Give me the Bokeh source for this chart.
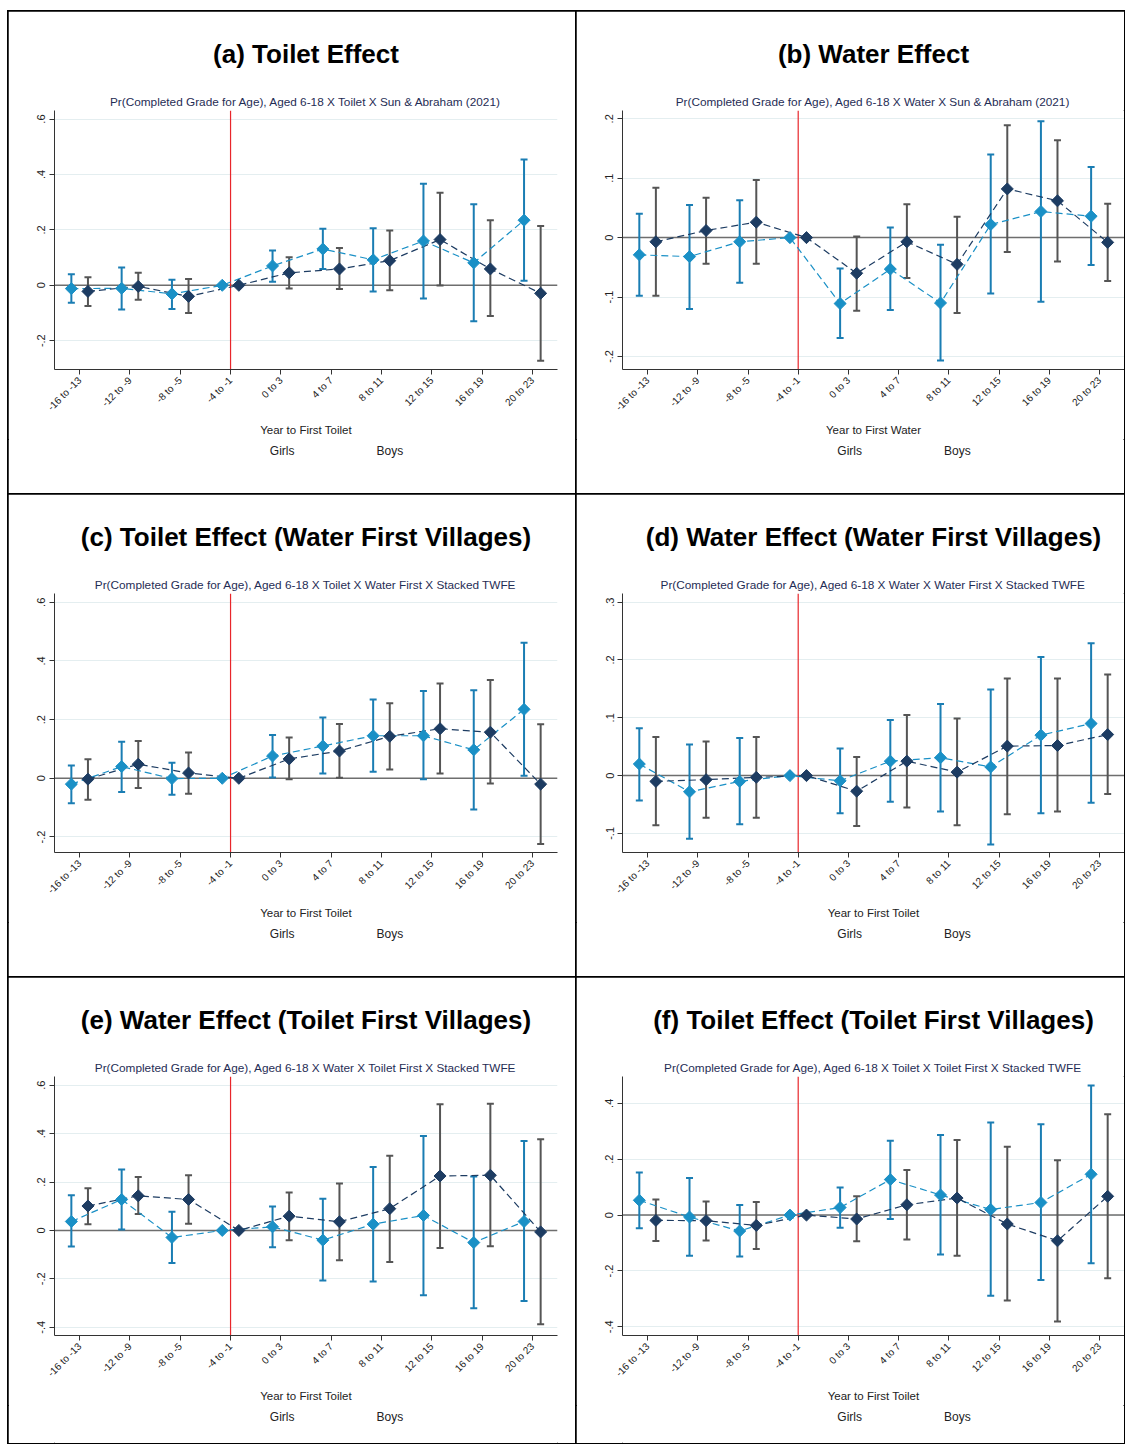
import math
from bokeh.plotting import figure
from bokeh.models import Span, Title, Legend, LegendItem, FixedTicker
from bokeh.layouts import column, row
from bokeh.embed import file_html
from bokeh.resources import INLINE

nan = float("nan")

categories = ["-16 to -13", "-12 to -9", "-8 to -5", "-4 to -1", "0 to 3",
              "4 to 7", "8 to 11", "12 to 15", "16 to 19", "20 to 23"]
cat_pos = list(range(1, 11))

a_g = [-0.012, -0.011, -0.031, 0.0, 0.070, 0.131, 0.092, 0.160, 0.081, 0.235]
a_g_lo = [-0.063, -0.087, -0.086, nan, 0.013, 0.059, -0.022, -0.048, -0.130, 0.016]
a_g_hi = [0.040, 0.064, 0.020, nan, 0.126, 0.204, 0.206, 0.367, 0.293, 0.454]
a_b = [-0.022, -0.004, -0.040, 0.0, 0.045, 0.059, 0.089, 0.165, 0.059, -0.029]
a_b_lo = [-0.075, -0.052, -0.100, nan, -0.012, -0.013, -0.018, -0.001, -0.111, -0.272]
a_b_hi = [0.029, 0.045, 0.023, nan, 0.101, 0.135, 0.198, 0.334, 0.235, 0.214]

b_g = [-0.029, -0.032, -0.007, 0.0, -0.111, -0.053, -0.110, 0.022, 0.044, 0.036]
b_g_lo = [-0.098, -0.120, -0.076, nan, -0.169, -0.122, -0.207, -0.094, -0.108, -0.046]
b_g_hi = [0.040, 0.055, 0.063, nan, -0.052, 0.017, -0.012, 0.140, 0.196, 0.119]
b_b = [-0.007, 0.012, 0.026, 0.0, -0.060, -0.007, -0.045, 0.082, 0.062, -0.008]
b_b_lo = [-0.098, -0.044, -0.044, nan, -0.123, -0.068, -0.127, -0.024, -0.040, -0.073]
b_b_hi = [0.084, 0.067, 0.097, nan, 0.002, 0.056, 0.035, 0.189, 0.164, 0.057]

c_g = [-0.020, 0.040, -0.001, 0.0, 0.076, 0.110, 0.145, 0.145, 0.097, 0.235]
c_g_lo = [-0.085, -0.047, -0.056, nan, 0.003, 0.016, 0.022, -0.003, -0.106, 0.009]
c_g_hi = [0.044, 0.125, 0.053, nan, 0.148, 0.207, 0.269, 0.298, 0.300, 0.462]
c_b = [-0.003, 0.048, 0.018, 0.0, 0.066, 0.093, 0.143, 0.169, 0.157, -0.020]
c_b_lo = [-0.073, -0.033, -0.053, nan, -0.003, 0.002, 0.030, 0.016, -0.018, -0.224]
c_b_hi = [0.065, 0.127, 0.088, nan, 0.139, 0.185, 0.256, 0.323, 0.335, 0.184]

d_g = [0.020, -0.028, -0.010, 0.0, -0.009, 0.025, 0.031, 0.015, 0.070, 0.090]
d_g_lo = [-0.043, -0.109, -0.084, nan, -0.065, -0.045, -0.062, -0.119, -0.065, -0.047]
d_g_hi = [0.082, 0.054, 0.065, nan, 0.047, 0.096, 0.124, 0.149, 0.205, 0.229]
d_b = [-0.010, -0.007, -0.003, 0.0, -0.027, 0.025, 0.006, 0.051, 0.052, 0.071]
d_b_lo = [-0.086, -0.073, -0.073, nan, -0.087, -0.055, -0.086, -0.067, -0.062, -0.032]
d_b_hi = [0.067, 0.059, 0.067, nan, 0.032, 0.105, 0.099, 0.168, 0.168, 0.175]

e_g = [0.037, 0.128, -0.029, 0.0, 0.015, -0.040, 0.026, 0.062, -0.050, 0.037]
e_g_lo = [-0.066, 0.004, -0.134, nan, -0.069, -0.207, -0.211, -0.268, -0.321, -0.291]
e_g_hi = [0.145, 0.252, 0.077, nan, 0.099, 0.131, 0.262, 0.390, 0.223, 0.370]
e_b = [0.101, 0.143, 0.128, 0.0, 0.059, 0.036, 0.090, 0.225, 0.228, -0.006]
e_b_lo = [0.026, 0.068, 0.028, nan, -0.040, -0.123, -0.130, -0.072, -0.065, -0.388]
e_b_hi = [0.174, 0.221, 0.228, nan, 0.157, 0.194, 0.309, 0.521, 0.523, 0.377]

f_g = [0.053, -0.007, -0.057, 0.0, 0.027, 0.127, 0.072, 0.020, 0.045, 0.146]
f_g_lo = [-0.047, -0.146, -0.148, nan, -0.045, -0.014, -0.141, -0.289, -0.232, -0.172]
f_g_hi = [0.152, 0.133, 0.036, nan, 0.099, 0.266, 0.287, 0.331, 0.325, 0.464]
f_b = [-0.019, -0.020, -0.037, 0.0, -0.014, 0.037, 0.061, -0.032, -0.092, 0.067]
f_b_lo = [-0.093, -0.091, -0.121, nan, -0.094, -0.087, -0.146, -0.306, -0.381, -0.226]
f_b_hi = [0.056, 0.049, 0.047, nan, 0.067, 0.161, 0.269, 0.245, 0.196, 0.361]

titles = ["(a) Toilet Effect", "(b) Water Effect",
          "(c) Toilet Effect (Water First Villages)", "(d) Water Effect (Water First Villages)",
          "(e) Water Effect (Toilet First Villages)", "(f) Toilet Effect (Toilet First Villages)"]
subtitles = [
    "Pr(Completed Grade for Age), Aged 6-18 X Toilet X Sun & Abraham (2021)",
    "Pr(Completed Grade for Age), Aged 6-18 X Water X Sun & Abraham (2021)",
    "Pr(Completed Grade for Age), Aged 6-18 X Toilet X Water First X Stacked TWFE",
    "Pr(Completed Grade for Age), Aged 6-18 X Water X Water First X Stacked TWFE",
    "Pr(Completed Grade for Age), Aged 6-18 X Water X Toilet First X Stacked TWFE",
    "Pr(Completed Grade for Age), Aged 6-18 X Toilet X Toilet First X Stacked TWFE",
]
xlabels = ["Year to First Toilet", "Year to First Water", "Year to First Toilet",
           "Year to First Toilet", "Year to First Toilet", "Year to First Toilet"]
legend_labels = ["Girls", "Boys"]

yticks_a = [-0.2, 0.0, 0.2, 0.4, 0.6]
ylabels_a = ["-.2", "0", ".2", ".4", ".6"]
yticks_b = [-0.2, -0.1, 0.0, 0.1, 0.2]
ylabels_b = ["-.2", "-.1", "0", ".1", ".2"]
yticks_d = [-0.1, 0.0, 0.1, 0.2, 0.3]
ylabels_d = ["-.1", "0", ".1", ".2", ".3"]
yticks_e = [-0.4, -0.2, 0.0, 0.2, 0.4, 0.6]
ylabels_e = ["-.4", "-.2", "0", ".2", ".4", ".6"]
yticks_f = [-0.4, -0.2, 0.0, 0.2, 0.4]
ylabels_f = ["-.4", "-.2", "0", ".2", ".4"]

yranges = [(-0.304, 0.631), (-0.222, 0.214), (-0.253, 0.630),
           (-0.133, 0.315), (-0.434, 0.636), (-0.431, 0.496)]

panels = [
    (a_g, a_g_lo, a_g_hi, a_b, a_b_lo, a_b_hi, yticks_a, ylabels_a),
    (b_g, b_g_lo, b_g_hi, b_b, b_b_lo, b_b_hi, yticks_b, ylabels_b),
    (c_g, c_g_lo, c_g_hi, c_b, c_b_lo, c_b_hi, yticks_a, ylabels_a),
    (d_g, d_g_lo, d_g_hi, d_b, d_b_lo, d_b_hi, yticks_d, ylabels_d),
    (e_g, e_g_lo, e_g_hi, e_b, e_b_lo, e_b_hi, yticks_e, ylabels_e),
    (f_g, f_g_lo, f_g_hi, f_b, f_b_lo, f_b_hi, yticks_f, ylabels_f),
]

GIRL_C = "#1a90c6"
GIRL_CI = "#1a7db3"
BOY_C = "#1d3c62"
BOY_CI = "#555555"
FONT = "Liberation Sans"
OFFSET = 0.165


def make_cell(i, width, cell_height, right_border):
    g, g_lo, g_hi, b, b_lo, b_hi, yt, yl = panels[i]
    main_h = 428
    p = figure(width=width, height=main_h, x_range=(0.5, 10.5), y_range=yranges[i],
               output_backend="svg", toolbar_location=None,
               min_border_left=46, min_border_right=right_border,
               min_border_top=99, min_border_bottom=70,
               background_fill_color="white", border_fill_color="white",
               outline_line_color=None)

    p.add_layout(Title(text=subtitles[i], align="center", text_font=FONT,
                       text_font_size="11.8px", text_font_style="normal",
                       text_color="#1f2d55", standoff=3), "above")
    p.add_layout(Title(text=titles[i], align="center", text_font=FONT,
                       text_font_size="26px", text_font_style="bold",
                       text_color="black", standoff=45), "above")

    gx = [c - OFFSET for c in cat_pos]
    bx = [c + OFFSET for c in cat_pos]

    p.add_layout(Span(location=0, dimension="width", line_color="#6e6e6e",
                      line_width=1.5, level="underlay"))
    p.add_layout(Span(location=4, dimension="height", line_color="#e8262b",
                      line_width=1.2, level="underlay"))

    p.segment(x0=gx, y0=g_lo, x1=gx, y1=g_hi, line_color=GIRL_CI, line_width=2)
    p.scatter(x=gx + gx, y=g_lo + g_hi, marker="dash", size=7, line_color=GIRL_CI, line_width=2)
    p.segment(x0=bx, y0=b_lo, x1=bx, y1=b_hi, line_color=BOY_CI, line_width=2)
    p.scatter(x=bx + bx, y=b_lo + b_hi, marker="dash", size=7, line_color=BOY_CI, line_width=2)

    p.line(gx, g, line_color=GIRL_C, line_width=1.2, line_dash="7 4")
    p.line(bx, b, line_color=BOY_C, line_width=1.2, line_dash="7 4")
    p.scatter(gx, g, marker="square", angle=math.pi / 4, size=8.5,
              fill_color=GIRL_C, line_color=GIRL_C)
    p.scatter(bx, b, marker="square", angle=math.pi / 4, size=8.5,
              fill_color=BOY_C, line_color=BOY_C)

    p.xaxis.ticker = FixedTicker(ticks=cat_pos)
    p.xaxis.major_label_overrides = {c: s for c, s in zip(cat_pos, categories)}
    p.xaxis.major_label_orientation = math.pi / 4
    p.xaxis.axis_label = xlabels[i]
    p.yaxis.ticker = FixedTicker(ticks=yt)
    p.yaxis.major_label_overrides = {v: s for v, s in zip(yt, yl)}
    p.yaxis.major_label_orientation = "vertical"
    for ax in (p.xaxis[0], p.yaxis[0]):
        ax.axis_line_color = "#333333"
        ax.axis_line_width = 1
        ax.major_tick_line_color = "#333333"
        ax.major_tick_out = 5
        ax.major_tick_in = 0
        ax.minor_tick_line_color = None
        ax.major_label_text_font = FONT
        ax.major_label_text_color = "#222222"
        ax.axis_label_text_font = FONT
        ax.axis_label_text_font_style = "normal"
        ax.axis_label_text_color = "#222222"
        ax.axis_label_text_font_size = "11.5px"
    p.xaxis.major_label_text_font_size = "10px"
    p.yaxis.major_label_text_font_size = "11px"
    p.xaxis.major_label_standoff = 4
    p.yaxis.major_label_standoff = 4
    p.xaxis.axis_label_standoff = 4

    p.xgrid.visible = False
    p.ygrid.ticker = FixedTicker(ticks=yt)
    p.ygrid.grid_line_color = "#e4eef0"
    p.ygrid.grid_line_width = 1

    # legend strip below the plot (its own small figure, legend inside its frame)
    lg = figure(width=width, height=cell_height - main_h, x_range=(0, 1), y_range=(0, 1),
                output_backend="svg", toolbar_location=None,
                x_axis_location=None, y_axis_location=None,
                min_border_left=46, min_border_right=right_border,
                min_border_top=0, min_border_bottom=0,
                background_fill_color="white", border_fill_color="white",
                outline_line_color=None)
    lg.grid.visible = False
    gl = lg.line(x=[], y=[], line_color=GIRL_C, line_width=1.2, line_dash="7 4")
    gk = lg.scatter(x=[], y=[], marker="diamond", size=13, fill_color=GIRL_C, line_color=GIRL_C)
    bl = lg.line(x=[], y=[], line_color=BOY_C, line_width=1.2, line_dash="7 4")
    bk = lg.scatter(x=[], y=[], marker="diamond", size=13, fill_color=BOY_C, line_color=BOY_C)
    legend = Legend(items=[LegendItem(label=legend_labels[0], renderers=[gl, gk]),
                           LegendItem(label=legend_labels[1], renderers=[bl, bk])],
                    orientation="horizontal", location="top_center",
                    border_line_color=None, background_fill_alpha=0,
                    label_text_font=FONT, label_text_font_size="12px",
                    label_text_color="#222222",
                    glyph_width=55, glyph_height=14, label_standoff=7,
                    spacing=20, padding=0, margin=5)
    lg.add_layout(legend)

    return column(p, lg, styles={"outline": "2px solid black", "outline-offset": "-1px"})


ca = make_cell(0, 568, 483, 19)
cb = make_cell(1, 548, 483, 0)
cc = make_cell(2, 568, 483, 19)
cd = make_cell(3, 548, 483, 0)
ce = make_cell(4, 568, 466, 19)
cf = make_cell(5, 548, 466, 0)

layout = column(row(ca, cb), row(cc, cd), row(ce, cf), margin=(11, 0, 0, 8))

open("out.html", "w").write(file_html(layout, INLINE))
